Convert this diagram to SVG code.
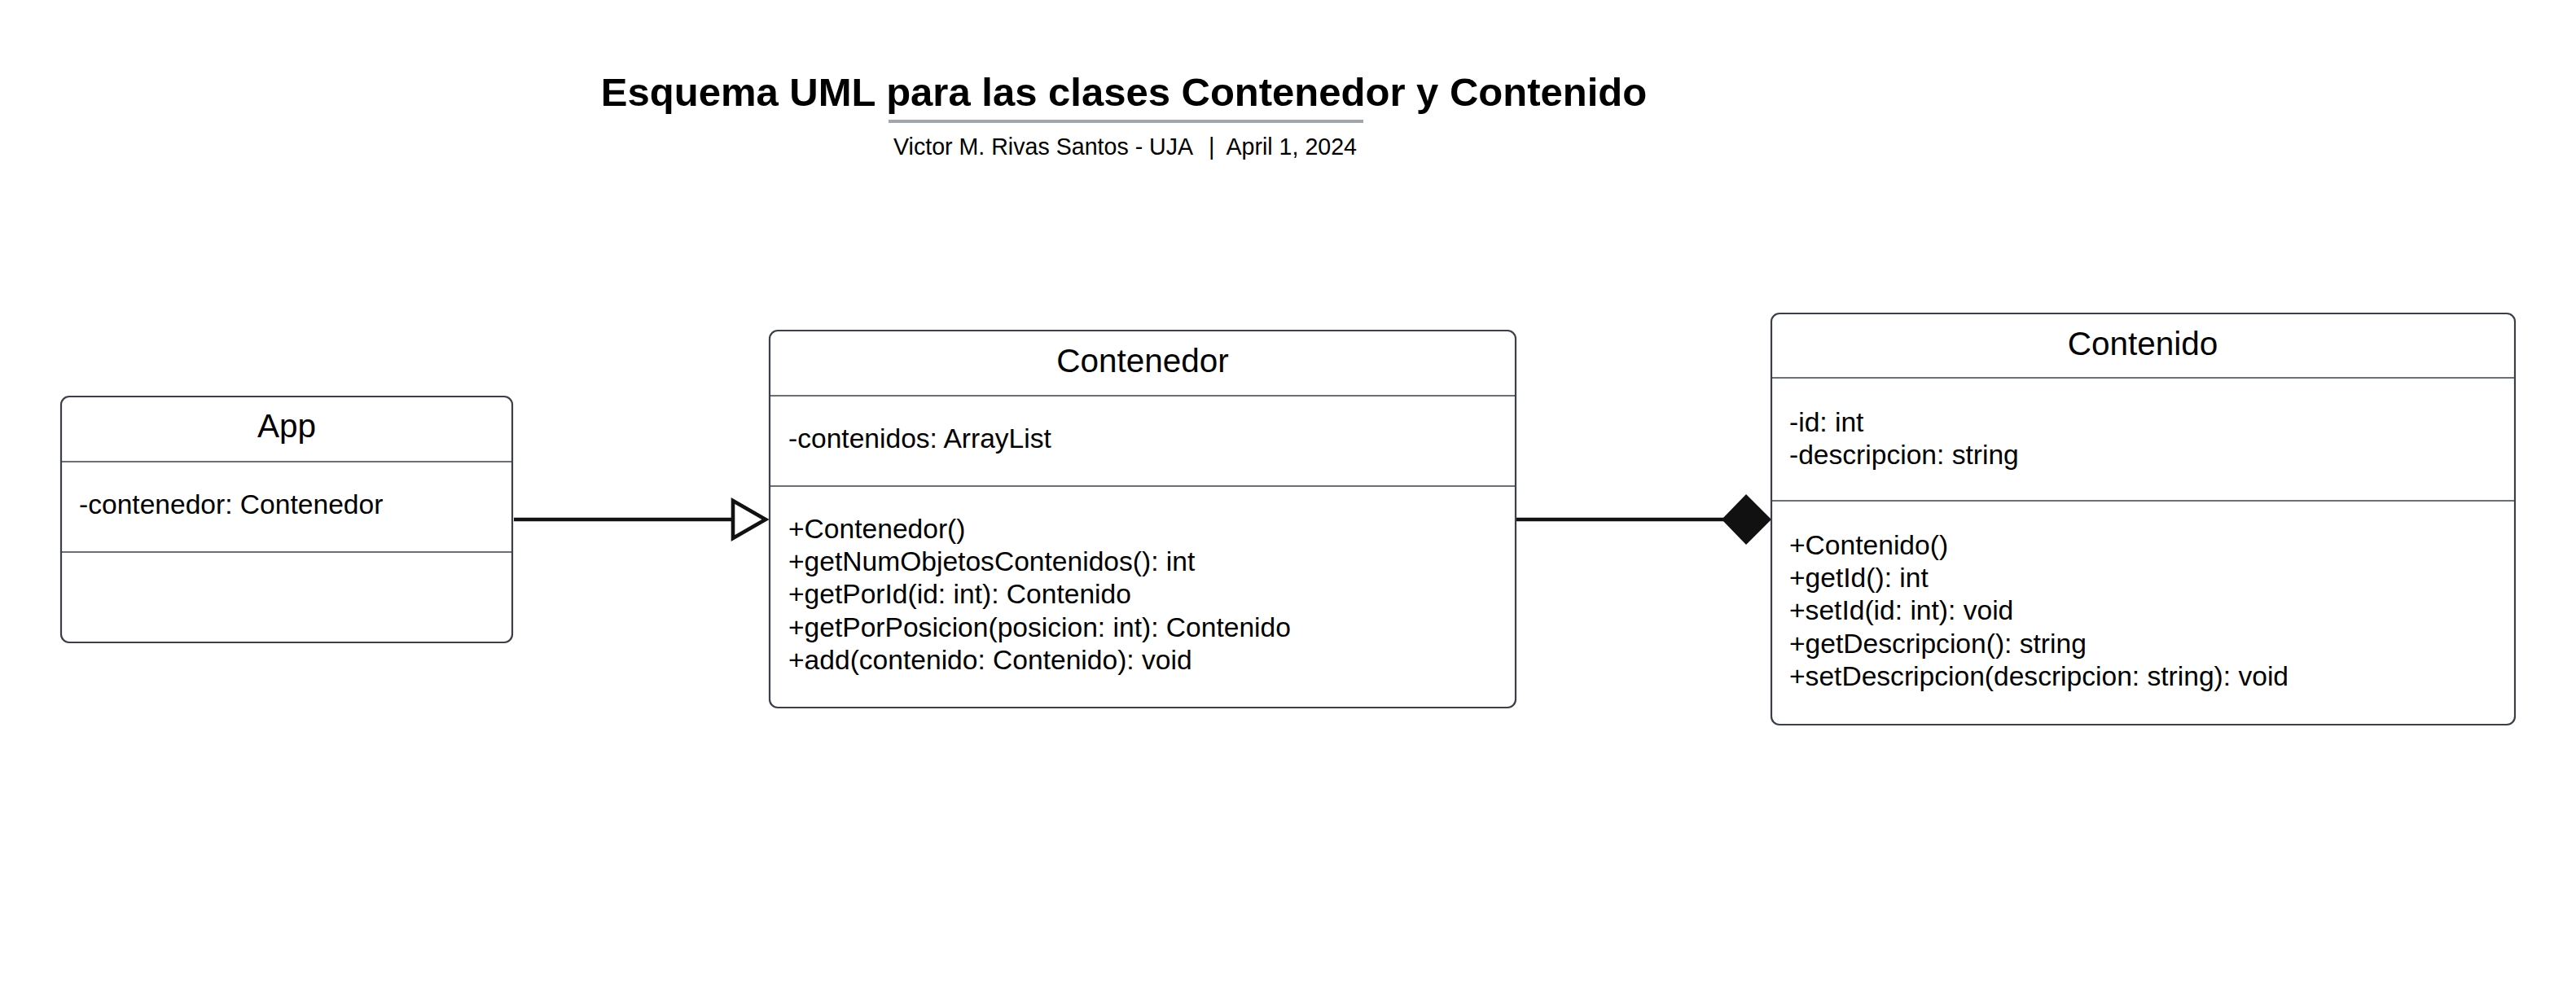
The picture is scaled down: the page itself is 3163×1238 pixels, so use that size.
<svg xmlns="http://www.w3.org/2000/svg" width="3163" height="1238" viewBox="0 0 3163 1238">
  <style>
    text { font-family: "Liberation Sans", Arial, sans-serif; fill: #000; }
    .title { font-size: 49px; font-weight: bold; text-anchor: middle; }
    .sub { font-size: 28.6px; }
    .cname { font-size: 40.5px; text-anchor: middle; }
    .mem { font-size: 33.6px; }
    .box { fill: #fff; stroke: #3a3f48; stroke-width: 2.2; }
    .div { stroke: #3a3f48; stroke-width: 1.6; }
    .conn { stroke: #111; stroke-width: 4.6; fill: none; }
  </style>
  <rect width="3163" height="1238" fill="#fff"/>

  <g id="header">
    <text class="title" x="1380" y="130">Esquema UML para las clases Contenedor y Contenido</text>
    <rect x="1091" y="147" width="583" height="4" fill="#a2a6ad"/>
    <text class="sub" x="1097" y="190">Victor M. Rivas Santos - UJA</text>
    <text class="sub" x="1484" y="190">|</text>
    <text class="sub" x="1666" y="190" text-anchor="end">April 1, 2024</text>
  </g>

  <g id="connectors">
    <line class="conn" x1="631" y1="638" x2="900" y2="638"/>
    <path class="conn" d="M900,615 L900,661 L940,638 Z" style="fill:#fff" stroke-linejoin="miter"/>
    <line class="conn" x1="1861" y1="638" x2="2118" y2="638"/>
    <path d="M2114,638 L2144,607 L2175,638 L2144,669 Z" fill="#111"/>
  </g>

  <g id="App">
    <rect class="box" x="75" y="487" width="554" height="302" rx="10" ry="10"/>
    <line class="div" x1="75" y1="567" x2="629" y2="567"/>
    <line class="div" x1="75" y1="678" x2="629" y2="678"/>
    <text class="cname" x="352" y="537">App</text>
    <text class="mem" x="97" y="631">-contenedor: Contenedor</text>
  </g>

  <g id="Contenedor">
    <rect class="box" x="945" y="406" width="916" height="463" rx="10" ry="10"/>
    <line class="div" x1="945" y1="486" x2="1861" y2="486"/>
    <line class="div" x1="945" y1="597" x2="1861" y2="597"/>
    <text class="cname" x="1403" y="457">Contenedor</text>
    <text class="mem" x="968" y="550">-contenidos: ArrayList</text>
    <text class="mem" x="968" y="661">+Contenedor()</text>
    <text class="mem" x="968" y="701">+getNumObjetosContenidos(): int</text>
    <text class="mem" x="968" y="741">+getPorId(id: int): Contenido</text>
    <text class="mem" x="968" y="782">+getPorPosicion(posicion: int): Contenido</text>
    <text class="mem" x="968" y="822">+add(contenido: Contenido): void</text>
  </g>

  <g id="Contenido">
    <rect class="box" x="2175" y="385" width="913" height="505" rx="10" ry="10"/>
    <line class="div" x1="2175" y1="464" x2="3088" y2="464"/>
    <line class="div" x1="2175" y1="615" x2="3088" y2="615"/>
    <text class="cname" x="2631" y="436">Contenido</text>
    <text class="mem" x="2197" y="530">-id: int</text>
    <text class="mem" x="2197" y="570">-descripcion: string</text>
    <text class="mem" x="2197" y="681">+Contenido()</text>
    <text class="mem" x="2197" y="721">+getId(): int</text>
    <text class="mem" x="2197" y="761">+setId(id: int): void</text>
    <text class="mem" x="2197" y="802">+getDescripcion(): string</text>
    <text class="mem" x="2197" y="842">+setDescripcion(descripcion: string): void</text>
  </g>
</svg>
